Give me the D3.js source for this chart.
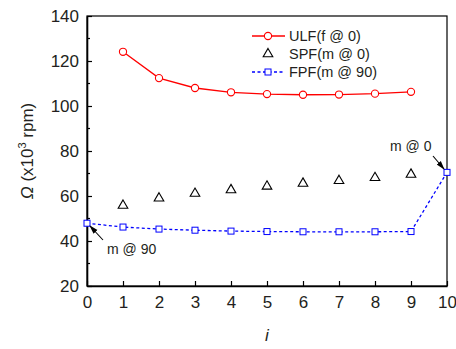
<!DOCTYPE html>
<html>
<head>
<meta charset="utf-8">
<script src="https://cdn.jsdelivr.net/npm/d3@7"></script>
<style>
  body { margin: 0; background: #fff; }
  text { font-family: Arial, "Liberation Sans", sans-serif; fill: #231f20; }
</style>
</head>
<body>
<div id="chart"></div>
<script>
// dados
const xTicks = [0, 1, 2, 3, 4, 5, 6, 7, 8, 9, 10];
const yTicks = [20, 40, 60, 80, 100, 120, 140];
const ulfI = [1, 2, 3, 4, 5, 6, 7, 8, 9];
const ulfVal = [124.1, 112.4, 108.0, 106.1, 105.3, 105.0, 105.1, 105.5, 106.3];
const spfI = [1, 2, 3, 4, 5, 6, 7, 8, 9];
const spfVal = [55.8, 59.0, 61.1, 62.7, 64.3, 65.6, 66.8, 68.1, 69.6];
const fpfI = [0, 1, 2, 3, 4, 5, 6, 7, 8, 9, 10];
const fpfVal = [47.9, 46.2, 45.3, 44.8, 44.4, 44.2, 44.1, 44.1, 44.1, 44.2, 70.5];
const legendNames = ["ULF(f @ 0)", "SPF(m @ 0)", "FPF(m @ 90)"];

const canvasWidth = 456, canvasHeight = 349;
const pLeft = 87, pRight = 447, pTop = 16, pBottom = 286;

const svg = d3.select("#chart").append("svg")
  .attr("width", canvasWidth).attr("height", canvasHeight);

svg.append("defs").append("marker")
  .attr("id", "arrow")
  .attr("viewBox", "0 0 10 10")
  .attr("refX", 9).attr("refY", 5)
  .attr("markerWidth", 9).attr("markerHeight", 9)
  .attr("markerUnits", "userSpaceOnUse")
  .attr("orient", "auto")
  .append("path").attr("d", "M0,2 L10,5 L0,8 Z").attr("fill", "#000");

const x = d3.scaleLinear().domain([0, 10]).range([pLeft, pRight]);
const y = d3.scaleLinear().domain([20, 140]).range([pBottom, pTop]);

//=====Eixos=====
// caixa (topo e direita sem ticks)
svg.append("rect")
  .attr("x", pLeft).attr("y", pTop)
  .attr("width", pRight - pLeft).attr("height", pBottom - pTop)
  .attr("fill", "none").attr("stroke", "#000").attr("stroke-width", 1.2);

const xAxis = svg.append("g")
  .attr("transform", `translate(0, ${pBottom})`)
  .call(d3.axisBottom(x).tickValues(xTicks).tickSizeInner(-5).tickSizeOuter(0).tickPadding(10));
xAxis.select(".domain").attr("stroke-width", 1.6);
xAxis.selectAll(".tick line").attr("stroke-width", 1.2);
xAxis.selectAll("text").style("font-size", "17px").attr("fill", "#231f20")
  .style("font-family", "Arial, 'Liberation Sans', sans-serif");

const yAxis = svg.append("g")
  .attr("transform", `translate(${pLeft}, 0)`)
  .call(d3.axisLeft(y).tickValues(yTicks).tickSizeInner(-5).tickSizeOuter(0).tickPadding(8));
yAxis.select(".domain").attr("stroke-width", 1.6);
yAxis.selectAll(".tick line").attr("stroke-width", 1.2);
yAxis.selectAll("text").style("font-size", "17px").attr("fill", "#231f20")
  .style("font-family", "Arial, 'Liberation Sans', sans-serif");

// minor ticks no eixo y
svg.append("g")
  .selectAll("line")
  .data(d3.range(30, 140, 20))
  .join("line")
  .attr("x1", pLeft).attr("x2", pLeft + 3)
  .attr("y1", d => y(d)).attr("y2", d => y(d))
  .attr("stroke", "#000").attr("stroke-width", 1.2);

// títulos dos eixos
svg.append("text")
  .attr("transform", `translate(33, ${(pTop + pBottom) / 2}) rotate(-90)`)
  .attr("text-anchor", "middle")
  .style("font-size", "17px")
  .html('<tspan font-style="italic">Ω</tspan> (x10<tspan dy="-7" font-size="11px">3</tspan><tspan dy="7"> rpm)</tspan>');

svg.append("text")
  .attr("x", x(5)).attr("y", 341)
  .attr("text-anchor", "middle")
  .style("font-size", "17px")
  .style("font-style", "italic")
  .text("i");

//=====Séries=====
const ulf = ulfI.map((d, i) => ({ i: d, v: ulfVal[i] }));
const spf = spfI.map((d, i) => ({ i: d, v: spfVal[i] }));
const fpf = fpfI.map((d, i) => ({ i: d, v: fpfVal[i] }));

const line = d3.line().x(d => x(d.i)).y(d => y(d.v));

svg.append("path").datum(ulf)
  .attr("fill", "none").attr("stroke", "#ff0000").attr("stroke-width", 1.3)
  .attr("d", line);
svg.append("g").selectAll("circle").data(ulf).join("circle")
  .attr("cx", d => x(d.i)).attr("cy", d => y(d.v)).attr("r", 3.6)
  .attr("fill", "#fff").attr("stroke", "#ff0000").attr("stroke-width", 1.1);

const tri = d3.symbol().type(d3.symbolTriangle).size(40);
svg.append("g").selectAll("path").data(spf).join("path")
  .attr("d", tri)
  .attr("transform", d => `translate(${x(d.i)}, ${y(d.v)})`)
  .attr("fill", "none").attr("stroke", "#000").attr("stroke-width", 1.1);

svg.append("path").datum(fpf)
  .attr("fill", "none").attr("stroke", "#0000ff").attr("stroke-width", 1.3)
  .attr("stroke-dasharray", "3,2.5")
  .attr("d", line);
svg.append("g").selectAll("rect").data(fpf).join("rect")
  .attr("x", d => x(d.i) - 3).attr("y", d => y(d.v) - 3)
  .attr("width", 6).attr("height", 6)
  .attr("fill", "#fff").attr("stroke", "#0000ff").attr("stroke-width", 1);

//=====Anotações=====
svg.append("line")
  .attr("x1", 103).attr("y1", 240).attr("x2", 90).attr("y2", 226)
  .attr("stroke", "#000").attr("stroke-width", 1.1)
  .attr("marker-end", "url(#arrow)");
svg.append("text").attr("x", 107).attr("y", 254)
  .style("font-size", "14px").attr("fill", "#404040").text("m @ 90");

svg.append("line")
  .attr("x1", 433).attr("y1", 156).attr("x2", 444).attr("y2", 169)
  .attr("stroke", "#000").attr("stroke-width", 1.1)
  .attr("marker-end", "url(#arrow)");
svg.append("text").attr("x", 390).attr("y", 151)
  .style("font-size", "14px").attr("fill", "#404040").text("m @ 0");

//=====Legenda=====
const legend = svg.append("g");
const rows = [36, 54, 72];
const lx1 = 252, lx2 = 285, lm = 268;

legend.append("line").attr("x1", lx1).attr("x2", lx2).attr("y1", rows[0]).attr("y2", rows[0])
  .attr("stroke", "#ff0000").attr("stroke-width", 1.3);
legend.append("circle").attr("cx", lm).attr("cy", rows[0]).attr("r", 3.6)
  .attr("fill", "#fff").attr("stroke", "#ff0000").attr("stroke-width", 1.1);

legend.append("path").attr("d", tri).attr("transform", `translate(${lm}, ${rows[1]})`)
  .attr("fill", "none").attr("stroke", "#000").attr("stroke-width", 1.1);

legend.append("line").attr("x1", lx1).attr("x2", lx2).attr("y1", rows[2]).attr("y2", rows[2])
  .attr("stroke", "#0000ff").attr("stroke-width", 1.3).attr("stroke-dasharray", "3,2.5");
legend.append("rect").attr("x", lm - 3).attr("y", rows[2] - 3).attr("width", 6).attr("height", 6)
  .attr("fill", "#fff").attr("stroke", "#0000ff").attr("stroke-width", 1);

legend.selectAll("text.leg").data(legendNames).join("text")
  .attr("class", "leg")
  .attr("x", 289).attr("y", (d, i) => rows[i] + 5)
  .style("font-size", "14.5px")
  .text(d => d);
</script>
</body>
</html>
